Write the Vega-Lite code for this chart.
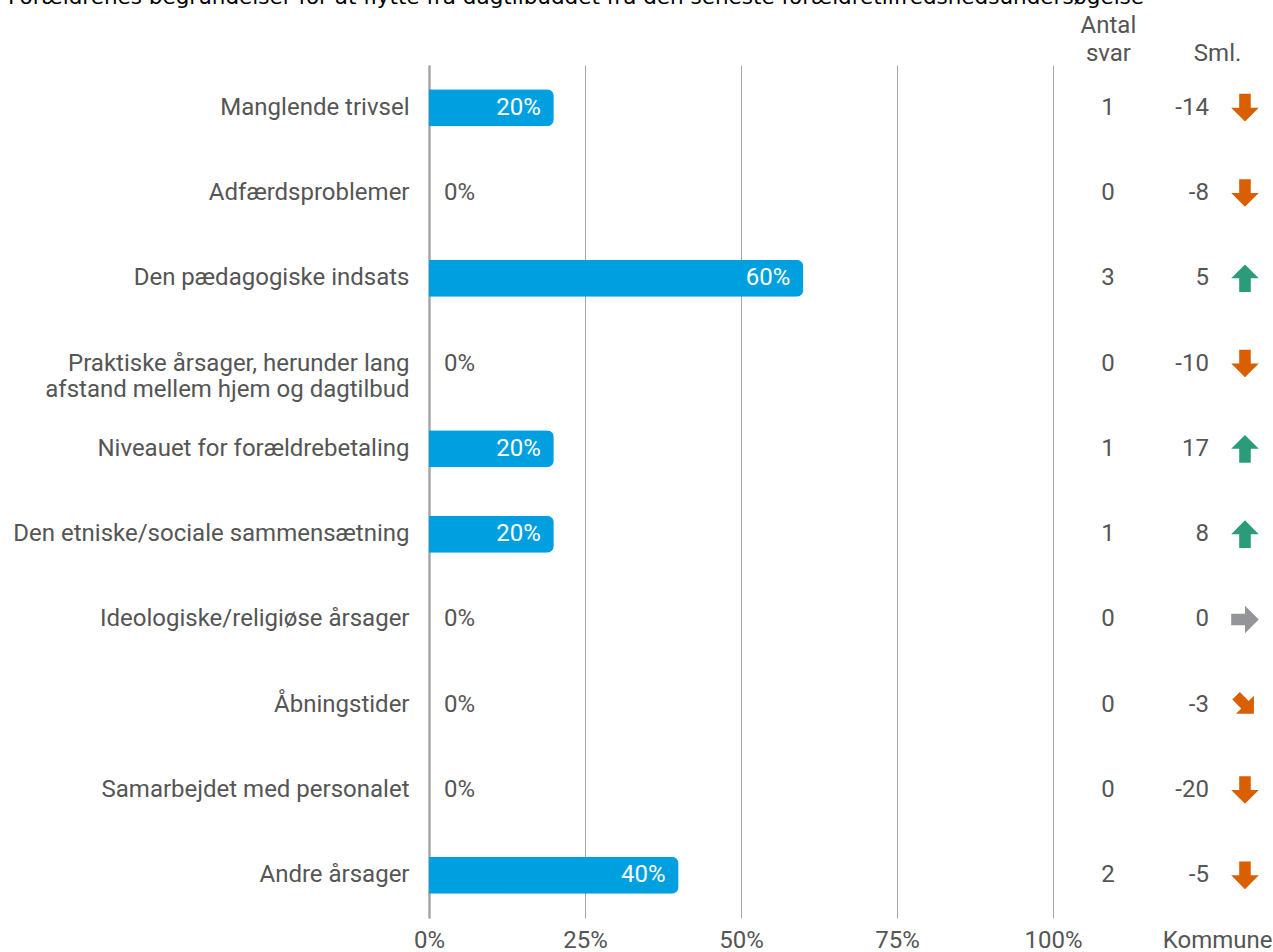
{
  "$schema": "https://vega.github.io/schema/vega-lite/v6.json",
  "autosize": "none",
  "width": 844,
  "height": 853,
  "padding": {"left": 429, "top": 65, "right": 0, "bottom": 34},
  "background": "white",
  "config": {"font": "Roboto", "view": {"stroke": null}},
  "title": {
    "text": "Forældrenes begrundelser for at flytte fra dagtilbuddet fra den seneste forældretilfredshedsundersøgelse",
    "font": "DejaVu Sans",
    "fontSize": 21.5,
    "fontWeight": "normal",
    "color": "#000000",
    "anchor": "start",
    "frame": "group",
    "dx": -421,
    "offset": 0,
    "dy": -5
  },
  "data": {
    "values": [
      {"k": "Manglende trivsel", "pct": 0.2, "n": 1, "sml": -14},
      {"k": "Adfærdsproblemer", "pct": 0, "n": 0, "sml": -8},
      {"k": "Den pædagogiske indsats", "pct": 0.6, "n": 3, "sml": 5},
      {"k": "Praktiske årsager, herunder lang afstand mellem hjem og dagtilbud", "pct": 0, "n": 0, "sml": -10},
      {"k": "Niveauet for forældrebetaling", "pct": 0.2, "n": 1, "sml": 17},
      {"k": "Den etniske/sociale sammensætning", "pct": 0.2, "n": 1, "sml": 8},
      {"k": "Ideologiske/religiøse årsager", "pct": 0, "n": 0, "sml": 0},
      {"k": "Åbningstider", "pct": 0, "n": 0, "sml": -3},
      {"k": "Samarbejdet med personalet", "pct": 0, "n": 0, "sml": -20},
      {"k": "Andre årsager", "pct": 0.4, "n": 2, "sml": -5}
    ]
  },
  "encoding": {
    "y": {
      "field": "k",
      "type": "nominal",
      "sort": null,
      "scale": {"paddingInner": 0.566, "paddingOuter": 0.283},
      "axis": {
        "title": null,
        "labelFontSize": 24,
        "labelColor": "#555555",
        "labelPadding": 20,
        "labelLineHeight": 26,
        "labelLimit": 600,
        "ticks": false,
        "domain": true,
        "domainColor": "#a6a6a6",
        "domainWidth": 2.5,
        "labelExpr": "datum.label == 'Praktiske årsager, herunder lang afstand mellem hjem og dagtilbud' ? ['Praktiske årsager, herunder lang', 'afstand mellem hjem og dagtilbud'] : datum.label"
      }
    }
  },
  "resolve": {"axis": {"x": "independent"}},
  "layer": [
    {
      "mark": {"type": "bar", "color": "#009FE0", "cornerRadiusEnd": 7},
      "encoding": {
        "x": {
          "field": "pct",
          "type": "quantitative",
          "scale": {"domain": [0, 1.3526], "nice": false, "zero": true},
          "axis": {
            "orient": "bottom",
            "title": null,
            "values": [0, 0.25, 0.5, 0.75, 1, 1.263],
            "labelExpr": "datum.value > 1.1 ? 'Kommune' : format(datum.value, '.0%')",
            "labelFontSize": 24,
            "labelColor": "#555555",
            "labelPadding": 10,
            "labelFlush": false,
            "labelOverlap": false,
            "domain": false,
            "ticks": false,
            "grid": true,
            "gridColor": "#a6a6a6",
            "gridWidth": 1,
            "gridOpacity": {"condition": {"test": "datum.value > 1.1", "value": 0}, "value": 1}
          }
        }
      }
    },
    {
      "transform": [{"filter": "datum.pct > 0"}],
      "mark": {"type": "text", "align": "right", "baseline": "middle", "dx": -13, "fontSize": 24, "color": "white"},
      "encoding": {
        "x": {"field": "pct", "type": "quantitative", "axis": null},
        "text": {"field": "pct", "type": "quantitative", "format": ".0%"}
      }
    },
    {
      "transform": [{"filter": "datum.pct == 0"}],
      "mark": {"type": "text", "align": "left", "baseline": "middle", "dx": 15, "fontSize": 24, "color": "#555555"},
      "encoding": {
        "x": {"field": "pct", "type": "quantitative", "axis": null},
        "text": {"field": "pct", "type": "quantitative", "format": ".0%"}
      }
    },
    {
      "mark": {"type": "text", "align": "center", "baseline": "middle", "fontSize": 24, "color": "#555555"},
      "encoding": {
        "x": {
          "datum": 1.088,
          "type": "quantitative",
          "axis": {
            "orient": "top",
            "title": null,
            "values": [1.088, 1.263],
            "labelExpr": "datum.value < 1.2 ? ['Antal', 'svar'] : ['', 'Sml.']",
            "labelFontSize": 24,
            "labelColor": "#555555",
            "labelLineHeight": 28,
            "labelPadding": 28,
            "labelFlush": false,
            "labelOverlap": false,
            "domain": false,
            "ticks": false,
            "grid": false
          }
        },
        "text": {"field": "n", "type": "nominal"}
      }
    },
    {
      "mark": {"type": "text", "align": "right", "baseline": "middle", "fontSize": 24, "color": "#555555"},
      "encoding": {
        "x": {"datum": 1.25, "type": "quantitative", "axis": null},
        "text": {"field": "sml", "type": "nominal"}
      }
    },
    {
      "transform": [{"filter": "datum.sml >= 5"}],
      "mark": {"type": "point", "filled": true, "opacity": 1, "size": 760, "color": "#2A9D78", "shape": "M0,-1L1,0L0.42,0L0.42,1L-0.42,1L-0.42,0L-1,0Z", "angle": 0},
      "encoding": {"x": {"datum": 1.3077, "type": "quantitative", "axis": null}}
    },
    {
      "transform": [{"filter": "datum.sml <= -5"}],
      "mark": {"type": "point", "filled": true, "opacity": 1, "size": 760, "color": "#D95F02", "shape": "M0,-1L1,0L0.42,0L0.42,1L-0.42,1L-0.42,0L-1,0Z", "angle": 180},
      "encoding": {"x": {"datum": 1.3077, "type": "quantitative", "axis": null}}
    },
    {
      "transform": [{"filter": "datum.sml == 0"}],
      "mark": {"type": "point", "filled": true, "opacity": 1, "size": 760, "color": "#939598", "shape": "M0,-1L1,0L0.42,0L0.42,1L-0.42,1L-0.42,0L-1,0Z", "angle": 90},
      "encoding": {"x": {"datum": 1.3077, "type": "quantitative", "axis": null}}
    },
    {
      "transform": [{"filter": "datum.sml < 0 && datum.sml > -5"}],
      "mark": {"type": "point", "filled": true, "opacity": 1, "size": 640, "color": "#D95F02", "shape": "M0,-1L1,0L0.42,0L0.42,1L-0.42,1L-0.42,0L-1,0Z", "angle": 135},
      "encoding": {"x": {"datum": 1.3077, "type": "quantitative", "axis": null}}
    },
    {
      "transform": [{"filter": "datum.sml > 0 && datum.sml < 5"}],
      "mark": {"type": "point", "filled": true, "opacity": 1, "size": 640, "color": "#2A9D78", "shape": "M0,-1L1,0L0.42,0L0.42,1L-0.42,1L-0.42,0L-1,0Z", "angle": 45},
      "encoding": {"x": {"datum": 1.3077, "type": "quantitative", "axis": null}}
    }
  ]
}
